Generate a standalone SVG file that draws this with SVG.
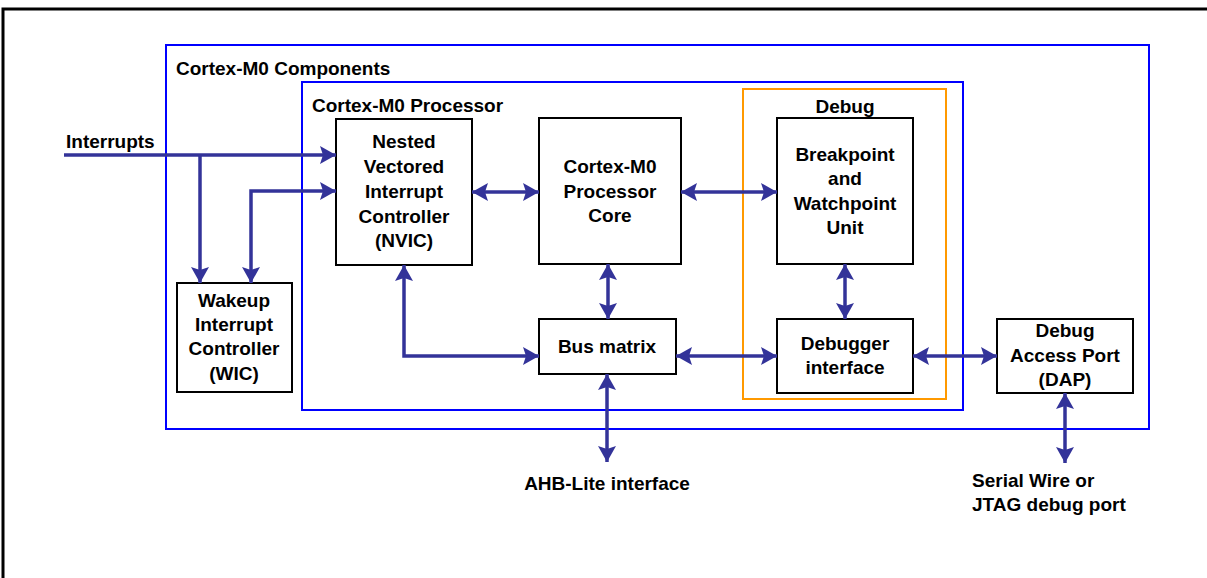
<svg xmlns="http://www.w3.org/2000/svg" width="1207" height="578" viewBox="0 0 1207 578">
<defs>
<style>
text{font-family:"Liberation Sans",Arial,sans-serif;font-weight:bold;font-size:19px;fill:#000}
.c{text-anchor:middle}
.node{fill:#fff;stroke:#000;stroke-width:2}
.blue{fill:none;stroke:#0000ff;stroke-width:2}
.orange{fill:none;stroke:#ff9900;stroke-width:2}
.con{fill:none;stroke:#333399;stroke-width:3.5}
.one{marker-end:url(#ah)}
.two{marker-start:url(#ah);marker-end:url(#ah)}
</style>
<marker id="ah" viewBox="0 0 16 18" refX="16" refY="9" markerWidth="16" markerHeight="18" markerUnits="userSpaceOnUse" orient="auto-start-reverse">
<path d="M0,0 L16,9 L0,18 L3,9 z" fill="#333399"/>
</marker>
</defs>
<rect width="1207" height="578" fill="#fff"/>
<path id="frame" d="M3,578 V9 H1207" fill="none" stroke="#000" stroke-width="3"/>

<g id="components">
<rect class="blue" x="166" y="45" width="983" height="384"/>
<text x="176" y="75">Cortex-M0 Components</text>
</g>
<g id="processor">
<rect class="blue" x="302" y="82" width="661" height="328"/>
<text x="312" y="112">Cortex-M0 Processor</text>
</g>
<g id="debug">
<rect class="orange" x="743" y="89" width="203" height="310"/>
<text class="c" x="845" y="113">Debug</text>
</g>

<g id="nvic">
<rect class="node" x="336" y="119" width="136" height="146"/>
<text class="c" x="404" y="148">Nested</text>
<text class="c" x="404" y="173">Vectored</text>
<text class="c" x="404" y="198">Interrupt</text>
<text class="c" x="404" y="223">Controller</text>
<text class="c" x="404" y="247">(NVIC)</text>
</g>
<g id="core">
<rect class="node" x="539" y="118" width="142" height="146"/>
<text class="c" x="610" y="173">Cortex-M0</text>
<text class="c" x="610" y="198">Processor</text>
<text class="c" x="610" y="222">Core</text>
</g>
<g id="bwu">
<rect class="node" x="777" y="118" width="136" height="146"/>
<text class="c" x="845" y="161">Breakpoint</text>
<text class="c" x="845" y="185">and</text>
<text class="c" x="845" y="210">Watchpoint</text>
<text class="c" x="845" y="234">Unit</text>
</g>
<g id="wic">
<rect class="node" x="177" y="283" width="115" height="109"/>
<text class="c" x="234" y="307">Wakeup</text>
<text class="c" x="234" y="331">Interrupt</text>
<text class="c" x="234" y="355">Controller</text>
<text class="c" x="234" y="380">(WIC)</text>
</g>
<g id="busmatrix">
<rect class="node" x="539" y="319" width="137" height="55"/>
<text class="c" x="607" y="353">Bus matrix</text>
</g>
<g id="debugif">
<rect class="node" x="777" y="319" width="136" height="74"/>
<text class="c" x="845" y="350">Debugger</text>
<text class="c" x="845" y="374">interface</text>
</g>
<g id="dap">
<rect class="node" x="997" y="319" width="136" height="74"/>
<text class="c" x="1065" y="337">Debug</text>
<text class="c" x="1065" y="362">Access Port</text>
<text class="c" x="1065" y="386">(DAP)</text>
</g>

<g id="labels">
<text x="66" y="148">Interrupts</text>
<text class="c" x="607" y="490">AHB-Lite interface</text>
<text x="972" y="487">Serial Wire or</text>
<text x="972" y="511">JTAG debug port</text>
</g>

<g id="connectors">
<path class="con one" d="M64,155 H336"/>
<path class="con one" d="M200,155 V283"/>
<path class="con two" d="M251,283 V191 H336"/>
<path class="con two" d="M404,265 V356 H539"/>
<path class="con two" d="M472,192 H539"/>
<path class="con two" d="M681,192 H777"/>
<path class="con two" d="M608,264 V319"/>
<path class="con two" d="M607,374 V462"/>
<path class="con two" d="M676,356 H777"/>
<path class="con two" d="M845,264 V319"/>
<path class="con two" d="M913,356 H997"/>
<path class="con two" d="M1065,393 V463"/>
</g>
</svg>
